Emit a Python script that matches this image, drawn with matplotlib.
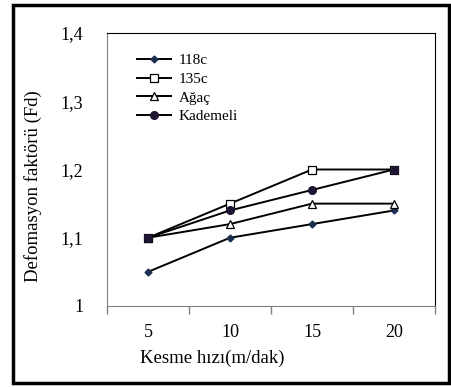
import matplotlib.pyplot as plt
import matplotlib.patches as mpatches
import numpy as np

plt.rcParams['font.family'] = ['Liberation Serif', 'DejaVu Serif']

# cutting speed categories (m/dak)
speeds = ['5', '10', '15', '20']

# deformation factor per series
fd_118c = [1.05, 1.10, 1.12, 1.14]
fd_135c = [1.10, 1.15, 1.20, 1.20]
fd_agac = [1.10, 1.12, 1.15, 1.15]
fd_kademeli = [1.10, 1.14, 1.17, 1.20]

y_ticks = [1.0, 1.1, 1.2, 1.3, 1.4]
y_labels = ['1', '1,1', '1,2', '1,3', '1,4']

fig = plt.figure(figsize=(4.51, 3.87), dpi=100)
ax = fig.add_axes([107 / 451, 81 / 387, 328 / 451, 273 / 387])

x = np.arange(len(speeds))

ax.plot(x, fd_118c, color='black', lw=1.4, marker='D', ms=3.5,
        mfc='#1c2f52', mec='#1c2f52', label='118c')
ax.plot(x, fd_135c, color='black', lw=1.4, marker='s', ms=5.5,
        mfc='white', mec='black', mew=0.9, label='135c')
ax.plot(x, fd_agac, color='black', lw=1.4, marker='^', ms=6,
        mfc='white', mec='black', mew=0.9, label='Ağaç')
ax.plot(x, fd_kademeli, color='black', lw=1.4, marker='o', ms=5.5,
        mfc='#1e1330', mec='#1e1330', label='Kademeli')

ax.set_xlim(-0.5, len(speeds) - 0.5)
ax.set_ylim(1.0, 1.4)
ax.set_xticks(x)
ax.set_xticklabels(speeds, fontsize=13)
ax.set_xticks(np.arange(len(speeds) + 1) - 0.5, minor=True)
ax.tick_params(axis='x', which='major', length=0, pad=13)
ax.tick_params(axis='x', which='minor', length=6, color='#808080', width=1)
ax.set_yticks(y_ticks)
ax.set_yticklabels(y_labels, fontsize=13)
ax.tick_params(axis='y', length=0, pad=17)

for side in ['left', 'bottom']:
    ax.spines[side].set_color('#808080')
for side in ['top', 'right']:
    ax.spines[side].set_color('black')

leg = ax.legend(loc='upper left', bbox_to_anchor=(0.05, 0.975), frameon=False,
                fontsize=11, handlelength=2.2, labelspacing=0.33,
                handletextpad=0.5)

fig.text(33 / 451, 1 - 186 / 387, 'Defomasyon faktörü (Fd)', rotation=90,
         ha='center', va='center', fontsize=13.5)
fig.text(212 / 451, 1 - 358 / 387, 'Kesme hızı(m/dak)',
         ha='center', va='center', fontsize=13.5)

# outer black frame
frame = mpatches.Rectangle((13 / 451, 4 / 387), 436 / 451, 378 / 387,
                           transform=fig.transFigure, fill=False,
                           edgecolor='black', lw=2.5)
fig.patches.append(frame)

fig.savefig('out.png', dpi=100)
